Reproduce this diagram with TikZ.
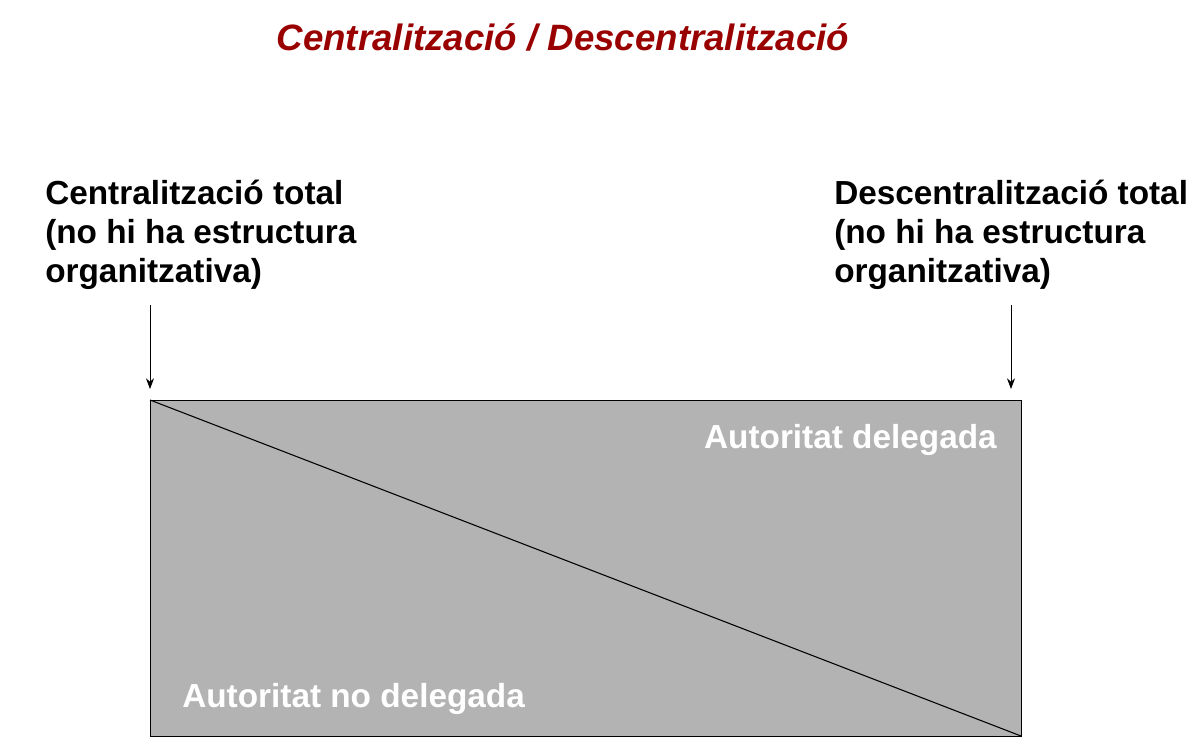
\documentclass[tikz,border=0pt]{standalone}
\usepackage{fontspec}
\setmainfont{Liberation Sans}
\usetikzlibrary{arrows.meta}
\definecolor{titlered}{HTML}{990000}
\definecolor{boxgray}{HTML}{B3B3B3}
\begin{document}
\begin{tikzpicture}[x=0.75pt,y=-0.75pt,
  lbl/.style={font=\fontsize{25}{29}\selectfont\bfseries, align=left, inner sep=0pt},
  wlbl/.style={font=\fontsize{25}{29}\selectfont\bfseries, text=white, inner sep=0pt},
  arr/.style={-{Stealth[length=8pt,width=6pt]}, line width=0.6pt}]
\useasboundingbox (0,0) rectangle (1200,756);
\node[font=\fontsize{27.5}{32}\selectfont\bfseries\itshape, text=titlered] (title) at (563,37) {Centralització / Descentralització};
\node[lbl, anchor=north west] (lt) at (45,180) {Centralització total\\(no hi ha estructura\\organitzativa)};
\node[lbl, anchor=north west] (rt) at (834,180) {Descentralització total\\(no hi ha estructura\\organitzativa)};
\draw[fill=boxgray, line width=0.6pt] (150,400) rectangle (1021,736);
\coordinate (tl) at (150,400);
\coordinate (br) at (1021,736);
\draw[line width=0.8pt] (tl) -- (br);
\coordinate (a1s) at (150,305); \coordinate (a1e) at (150,389);
\coordinate (a2s) at (1011,305); \coordinate (a2e) at (1011,389);
\draw[arr] (a1s) -- (a1e);
\draw[arr] (a2s) -- (a2e);
\node[wlbl, anchor=east] (del) at (997,440) {Autoritat delegada};
\node[wlbl, anchor=west] (nodel) at (182,699) {Autoritat no delegada};
\end{tikzpicture}
\end{document}
